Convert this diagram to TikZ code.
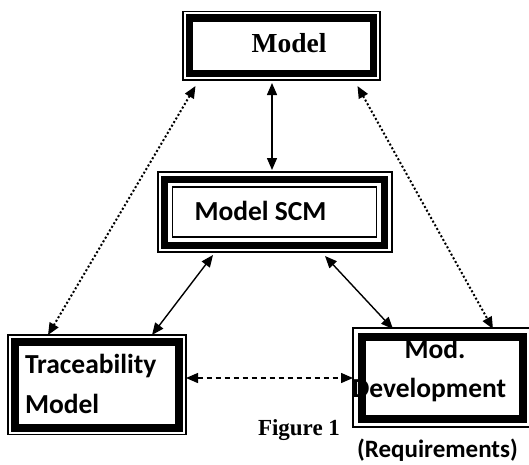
\documentclass[tikz,border=0pt]{standalone}
\usepackage{fontspec}
\setmainfont{Liberation Serif}
\newfontfamily\carl{Carlito}
\usetikzlibrary{arrows.meta,calc}
\begin{document}
\begin{tikzpicture}[x=1pt,y=-1pt,
  boxnode/.style={draw=none,inner sep=0pt,outer sep=0pt},
  txt/.style={inner sep=0pt,outer sep=0pt},
  serifbig/.style={font=\fontsize{27.5}{33}\selectfont\bfseries},
  seriffig/.style={font=\fontsize{23}{27}\selectfont\bfseries},
  sansbig/.style={font=\carl\fontsize{27.5}{33}\selectfont\bfseries},
  sansreq/.style={font=\carl\fontsize{25}{30}\selectfont\bfseries},
  thinln/.style={line width=1.4pt},
  tip/.tip={Triangle[length=12pt,width=10pt]},
  arr/.style={tip-tip,line width=1.4pt},
  dotarr/.style={tip-tip,line width=2pt,dash pattern=on 2pt off 2.2pt},
  dasharr/.style={tip-tip,line width=1.4pt,dash pattern=on 5pt off 4pt}]
\useasboundingbox (0,0) rectangle (529,464);

% box nodes
\node[boxnode,minimum width=197pt,minimum height=68.5pt] (model) at (281.5,45.75) {};
\node[boxnode,minimum width=234pt,minimum height=80pt] (scm) at (274.5,212) {};
\node[boxnode,minimum width=178pt,minimum height=99.5pt] (trace) at (97,384.75) {};
\node[boxnode,minimum width=178pt,minimum height=99pt] (dev) at (442,377.5) {};

% texts
\node[txt,serifbig,anchor=base] (modeltxt) at (289,52) {Model};
\node[txt,sansbig,anchor=base] (scmtxt) at (260.5,220) {Model SCM};
\node[txt,sansbig,anchor=base west] (tr1) at (25,373) {Traceability};
\node[txt,sansbig,anchor=base west] (tr2) at (25,413) {Model};
\node[txt,sansbig,anchor=base] (dev1) at (435,358) {Mod.};
\node[txt,sansbig,anchor=base west] (dev2) at (352,397) {Development};
\node[txt,sansreq,anchor=base] (req) at (437.5,457) {(Requirements)};
\node[txt,seriffig,anchor=base] (fig) at (299,435) {Figure 1};

% borders: model (thin + thick)
\draw[thinln] (model.north west) rectangle (model.south east);
\draw[line width=7.5pt] ($(model.north west)+(6.5,6.5)$) rectangle ($(model.south east)-(6.5,6.5)$);
% scm (thin + thick + thin)
\draw[line width=2pt] (scm.north west) rectangle (scm.south east);
\draw[line width=7pt] ($(scm.north west)+(7,7)$) rectangle ($(scm.south east)-(7,7)$);
\draw[line width=1.5pt] ($(scm.north west)+(15,15)$) rectangle ($(scm.south east)-(15,15)$);
% trace
\draw[thinln] (trace.north west) rectangle (trace.south east);
\draw[line width=8pt] ($(trace.north west)+(7,7)$) rectangle ($(trace.south east)-(7,7)$);
% dev
\draw[thinln] (dev.north west) rectangle (dev.south east);
\draw[line width=8pt] ($(dev.north west)+(8.5,8.5)$) rectangle ($(dev.south east)-(8.5,8.5)$);

% connectors
\draw[arr] ($(model.south)+(-9.5,3)$) -- ($(scm.north)+(-2.5,-2)$);
\draw[arr] ($(scm.south)+(-61.5,3)$) -- ($(trace.north)+(55,0)$);
\draw[arr] ($(scm.south)+(50.5,4)$) -- ($(dev.north)+(-49,1)$);
\draw[dotarr] ($(model.south)+(-86,6)$) -- ($(trace.north)+(-49,0)$);
\draw[dotarr] ($(model.south)+(76,6)$) -- ($(dev.north)+(51,1)$);
\draw[dasharr] ($(trace.east)+(0,-6.75)$) -- ($(dev.west)+(0,0.5)$);
\end{tikzpicture}
\end{document}
